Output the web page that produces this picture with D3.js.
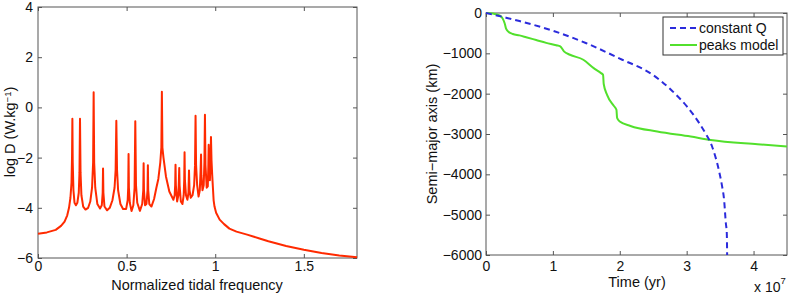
<!DOCTYPE html>
<html>
<head>
<meta charset="utf-8">
<script src="https://cdn.jsdelivr.net/npm/d3@7"></script>
<style>
body { margin:0; background:#fff; }
svg { font-family:"Liberation Sans", Arial, sans-serif; }
.tick text { font-size:14px; fill:#111; }
.domain { display:none; }
.tick line { stroke:#555; }
</style>
</head>
<body>
<div class="chart"></div>
<script>
// left panel: dissipation spectrum, [normalized freq, log D]
var spectrum = [[0,-5.03],[0.05,-4.98],[0.10,-4.88],[0.13,-4.72],[0.15,-4.55],[0.165,-4.3],[0.175,-4.0],[0.183,-3.6],[0.189,-3.0],[0.192,-2.0],[0.194,-0.45],
	[0.196,-2.2],[0.200,-3.3],[0.206,-3.8],[0.214,-3.9],[0.222,-3.8],[0.230,-3.4],[0.234,-2.6],[0.237,-0.45],[0.240,-2.6],[0.245,-3.5],[0.255,-3.95],
	[0.268,-4.07],[0.283,-4.0],[0.295,-3.75],[0.305,-3.2],[0.311,-2.2],[0.314,0.6],[0.317,-2.2],[0.323,-3.2],[0.335,-3.85],[0.350,-4.03],[0.360,-3.9],
	[0.365,-3.4],[0.367,-2.43],[0.369,-3.4],[0.375,-3.95],[0.390,-4.1],[0.405,-4.0],[0.420,-3.7],[0.432,-3.2],[0.438,-2.5],[0.442,-0.53],[0.446,-2.5],
	[0.452,-3.3],[0.465,-3.85],[0.480,-4.05],[0.497,-4.05],[0.506,-3.7],[0.509,-3.2],[0.511,-1.86],[0.513,-3.2],[0.518,-3.8],[0.528,-4.13],[0.538,-3.9],
	[0.545,-3.2],[0.549,-0.55],[0.553,-3.1],[0.560,-3.8],[0.575,-4.12],[0.588,-3.85],[0.594,-3.3],[0.596,-2.23],[0.598,-3.3],[0.604,-3.9],[0.612,-3.85],
	[0.618,-3.3],[0.620,-2.3],[0.622,-3.3],[0.628,-3.85],[0.640,-3.95],[0.655,-3.65],[0.668,-3.2],[0.679,-2.85],[0.690,-2.2],[0.696,-1.6],[0.699,0.62],
	[0.702,-1.6],[0.708,-2.0],[0.722,-2.75],[0.741,-3.35],[0.764,-3.68],[0.771,-3.5],[0.774,-3.1],[0.776,-2.28],[0.778,-3.1],[0.785,-3.75],[0.792,-3.5],
	[0.795,-2.9],[0.797,-2.41],[0.799,-3.1],[0.806,-3.75],[0.815,-3.85],[0.822,-3.5],[0.825,-2.9],[0.827,-1.79],[0.829,-2.9],[0.835,-3.5],[0.843,-3.68],
	[0.849,-3.4],[0.852,-2.51],[0.855,-3.3],[0.862,-3.6],[0.872,-3.5],[0.881,-3.1],[0.886,-2.3],[0.889,-0.33],[0.892,-2.3],[0.898,-3.1],[0.906,-3.55],
	[0.913,-3.3],[0.917,-2.6],[0.920,-1.88],[0.922,-2.7],[0.928,-3.3],[0.935,-3.1],[0.939,-2.2],[0.942,-0.29],[0.945,-2.3],[0.952,-3.2],[0.958,-3.15],
	[0.961,-2.4],[0.963,-1.49],[0.966,-2.4],[0.970,-2.9],[0.974,-2.0],[0.976,-1.18],[0.979,-2.1],[0.983,-2.7],[0.987,-3.2],[0.991,-3.7],[0.996,-3.95],
	[1.005,-4.2],[1.025,-4.47],[1.05,-4.65],[1.08,-4.83],[1.12,-4.95],[1.18,-5.07],[1.25,-5.22],[1.3,-5.33],[1.4,-5.52],[1.5,-5.67],[1.6,-5.8],
	[1.7,-5.9],[1.8,-5.97]];
var freqTicks = [0,0.5,1,1.5];
var logDTicks = [-6,-4,-2,0,2,4];

// right panel: semi-major axis change (km) vs time (units of 1e7 yr)
var constQ = [[0,0],[0.3,-117],[0.5,-200],[1.0,-440],[1.5,-750],[2.0,-1130],[2.5,-1540],[2.75,-1880],[3.0,-2310],[3.2,-2760],[3.28,-2980],
	[3.38,-3310],[3.48,-3890],[3.53,-4300],[3.56,-4640],[3.585,-5200],[3.6,-5460],[3.605,-6000]];
var peaksModel = [[0,0],[0.1,-15],[0.2,-60],[0.25,-140],[0.28,-260],[0.30,-390],[0.34,-470],[0.4,-520],[0.5,-555],[0.6,-600],[0.75,-670],
	[0.9,-740],[1.05,-800],[1.11,-828],[1.165,-950],[1.255,-1035],[1.455,-1159],[1.61,-1366],[1.72,-1490],[1.75,-1530],[1.76,-1760],[1.81,-2028],
	[1.91,-2300],[1.95,-2400],[1.96,-2600],[2.0,-2690],[2.16,-2800],[2.56,-2938],[3.06,-3063],[3.36,-3146],[4.06,-3253],[4.5,-3312]];
var timeTicks = [0,1,2,3,4];
var axisTicks = [-6000,-5000,-4000,-3000,-2000,-1000,0];
var legendNames = ["constant Q","peaks model"];

var svg = d3.select(".chart").append("svg")
	.attr("width",794)
	.attr("height",294);

var fmt = function(d){ return d3.format("")(d); };

// ---------- left panel ----------
var xL = d3.scaleLinear().domain([0,1.8]).range([38,357]);
var yL = d3.scaleLinear().domain([-6,4]).range([258,7]);

svg.append("g").attr("transform","translate(0,258)")
	.call(d3.axisBottom(xL).tickValues(freqTicks).tickSizeInner(-4).tickSizeOuter(0).tickPadding(3).tickFormat(fmt));
svg.append("g").attr("transform","translate(0,7)")
	.call(d3.axisTop(xL).tickValues(freqTicks).tickSizeInner(-4).tickSizeOuter(0).tickFormat(""));
svg.append("g").attr("transform","translate(38,0)")
	.call(d3.axisLeft(yL).tickValues(logDTicks).tickSizeInner(-4).tickSizeOuter(0).tickPadding(5).tickFormat(fmt));
svg.append("g").attr("transform","translate(357,0)")
	.call(d3.axisRight(yL).tickValues(logDTicks).tickSizeInner(-4).tickSizeOuter(0).tickFormat(""));

svg.append("rect")
	.attr("x",38).attr("y",7).attr("width",357-38).attr("height",258-7)
	.attr("fill","none").attr("stroke","#555").attr("stroke-width",1);

svg.append("path")
	.datum(spectrum)
	.attr("fill","none")
	.attr("stroke","#ff2a00")
	.attr("stroke-width",2)
	.attr("stroke-linejoin","round")
	.attr("d",d3.line().x(function(d){return xL(d[0]);}).y(function(d){return yL(d[1]);}));

svg.append("text")
	.attr("x",197).attr("y",290)
	.attr("text-anchor","middle")
	.attr("font-size",14.5).attr("fill","#111")
	.text("Normalized tidal frequency");

var yLabL = svg.append("text")
	.attr("transform","translate(15,132) rotate(-90)")
	.attr("text-anchor","middle")
	.attr("font-size",14.5).attr("fill","#111");
yLabL.append("tspan").text("log D (W.kg");
yLabL.append("tspan").attr("font-size",9.5).attr("dy",-4.5).text("−1");
yLabL.append("tspan").attr("dy",4.5).text(")");

// ---------- right panel ----------
var xR = d3.scaleLinear().domain([0,4.5]).range([486,787]);
var yR = d3.scaleLinear().domain([-6000,0]).range([255,13]);

svg.append("g").attr("transform","translate(0,255)")
	.call(d3.axisBottom(xR).tickValues(timeTicks).tickSizeInner(-4).tickSizeOuter(0).tickPadding(6).tickFormat(fmt));
svg.append("g").attr("transform","translate(0,13)")
	.call(d3.axisTop(xR).tickValues(timeTicks).tickSizeInner(-4).tickSizeOuter(0).tickFormat(""));
svg.append("g").attr("transform","translate(486,0)")
	.call(d3.axisLeft(yR).tickValues(axisTicks).tickSizeInner(-4).tickSizeOuter(0).tickPadding(4).tickFormat(fmt));
svg.append("g").attr("transform","translate(787,0)")
	.call(d3.axisRight(yR).tickValues(axisTicks).tickSizeInner(-4).tickSizeOuter(0).tickFormat(""));

svg.append("rect")
	.attr("x",486).attr("y",13).attr("width",787-486).attr("height",255-13)
	.attr("fill","none").attr("stroke","#555").attr("stroke-width",1);

var lineR = d3.line().curve(d3.curveMonotoneX)
	.x(function(d){return xR(d[0]);}).y(function(d){return yR(d[1]);});

svg.append("path")
	.datum(peaksModel)
	.attr("fill","none")
	.attr("stroke","#52e02c")
	.attr("stroke-width",2)
	.attr("d",lineR);

svg.append("path")
	.datum(constQ)
	.attr("fill","none")
	.attr("stroke","#2b2bdc")
	.attr("stroke-width",2)
	.attr("stroke-dasharray","6,4")
	.attr("d",lineR);

svg.append("text")
	.attr("x",637).attr("y",287)
	.attr("text-anchor","middle")
	.attr("font-size",14.5).attr("fill","#111")
	.text("Time (yr)");

var expo = svg.append("text")
	.attr("x",754).attr("y",292)
	.attr("font-size",14).attr("fill","#111");
expo.append("tspan").text("x 10");
expo.append("tspan").attr("font-size",9.5).attr("dy",-8).text("7");

svg.append("text")
	.attr("transform","translate(437,134) rotate(-90)")
	.attr("text-anchor","middle")
	.attr("font-size",14.5).attr("fill","#111")
	.text("Semi−major axis (km)");

// legend
var gLeg = svg.append("g").attr("class","legend");
gLeg.append("rect")
	.attr("x",663).attr("y",17).attr("width",120).attr("height",38)
	.attr("fill","#fff").attr("stroke","#333").attr("stroke-width",1);

var legStyles = [{c:"#2b2bdc",dash:"6,4"},{c:"#52e02c",dash:null}];
gLeg.selectAll("line")
	.data(legendNames)
	.enter().append("line")
		.attr("x1",670).attr("x2",697)
		.attr("y1",function(d,i){return 28 + i*17;})
		.attr("y2",function(d,i){return 28 + i*17;})
		.attr("stroke",function(d,i){return legStyles[i].c;})
		.attr("stroke-width",2)
		.attr("stroke-dasharray",function(d,i){return legStyles[i].dash;});
gLeg.selectAll("text")
	.data(legendNames)
	.enter().append("text")
		.attr("x",699)
		.attr("y",function(d,i){return 33 + i*17;})
		.attr("font-size",14).attr("fill","#111")
		.text(function(d){return d;});
</script>
</body>
</html>
